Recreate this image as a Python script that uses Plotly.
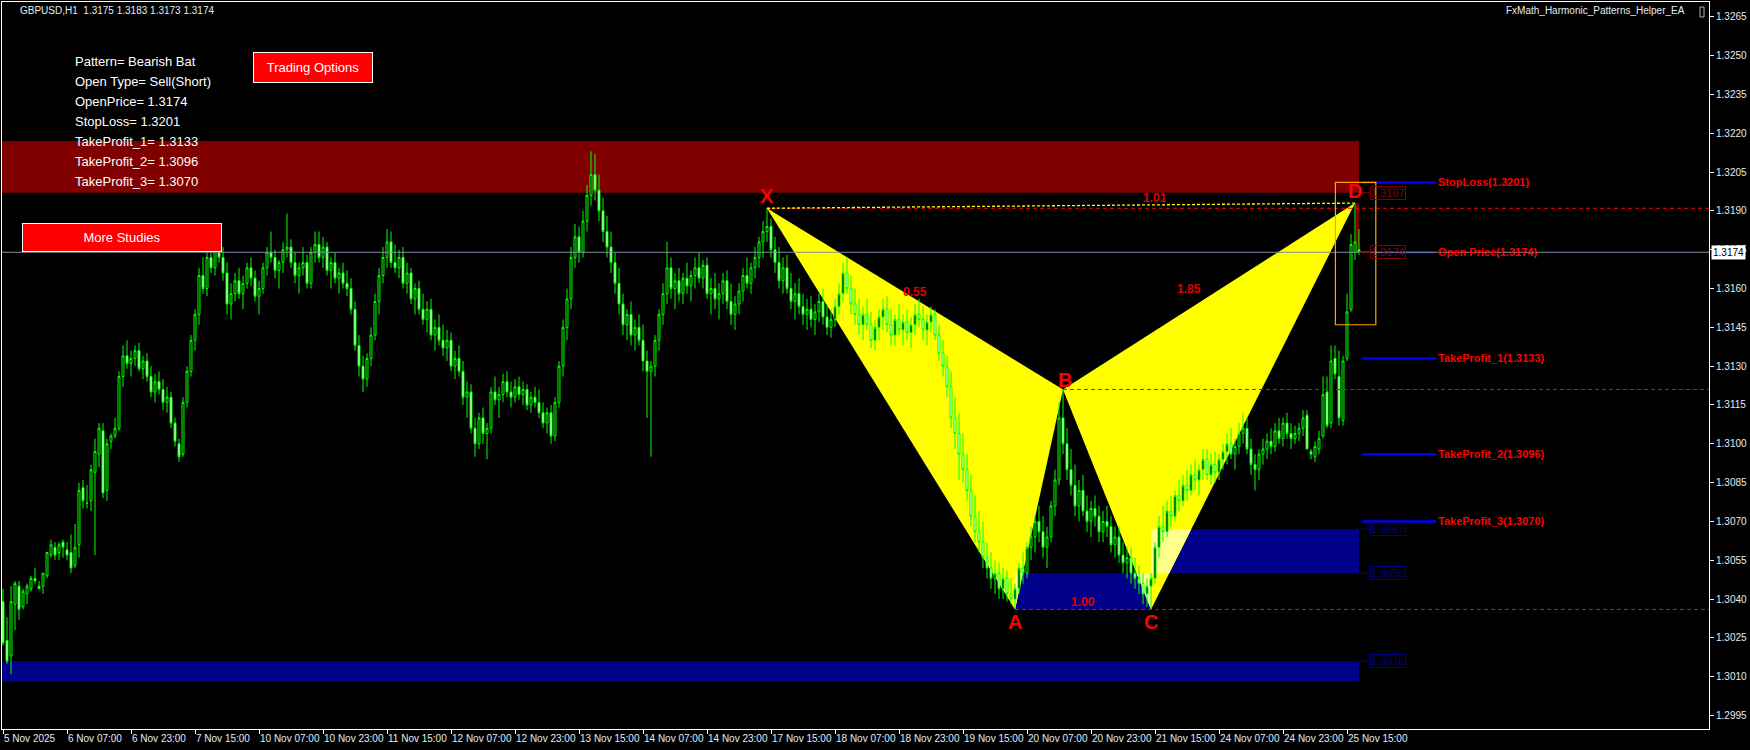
import plotly.graph_objects as go

# ---------------------------------------------------------------- data
# H1 bars, bar index 0 = 5 Nov 2025 15:00 (weekends skipped)
bar_index = list(range(340))
bar_open = [
    1.3039, 1.3024, 1.3018, 1.3038, 1.3045, 1.3037, 1.3042, 1.3044, 1.3048, 1.3045,
    1.3045, 1.3049, 1.3057, 1.3060, 1.3058, 1.3062, 1.3059, 1.3058, 1.3053, 1.3061,
    1.3083, 1.3077, 1.3078, 1.3089,
    1.3096, 1.3105, 1.3082, 1.3101, 1.3103, 1.3106, 1.3126, 1.3134, 1.3131, 1.3133,
    1.3136, 1.3129, 1.3132, 1.3126, 1.3120, 1.3124, 1.3121, 1.3116, 1.3118, 1.3108,
    1.3100, 1.3096, 1.3116, 1.3128, 1.3140, 1.3150, 1.3165, 1.3160, 1.3172, 1.3168,
    1.3181, 1.3172, 1.3166, 1.3154, 1.3158, 1.3163, 1.3158, 1.3162, 1.3168, 1.3164,
    1.3157, 1.3160, 1.3168, 1.3174, 1.3172, 1.3167, 1.3170, 1.3175, 1.3176, 1.3170,
    1.3165, 1.3168, 1.3170, 1.3162, 1.3174, 1.3177, 1.3172, 1.3176, 1.3167, 1.3170,
    1.3164, 1.3166, 1.3162, 1.3160, 1.3152, 1.3138, 1.3130, 1.3125, 1.3133, 1.3142,
    1.3155, 1.3165, 1.3172, 1.3178, 1.3170, 1.3168, 1.3172, 1.3162, 1.3166, 1.3156,
    1.3160, 1.3152, 1.3148, 1.3152, 1.3142, 1.3145, 1.3140, 1.3137, 1.3140, 1.3130,
    1.3133, 1.3128, 1.3118, 1.3120, 1.3106, 1.3100, 1.3110, 1.3104, 1.3106, 1.3120,
    1.3117, 1.3119, 1.3124, 1.3120, 1.3118, 1.3122, 1.3119, 1.3121, 1.3115, 1.3118,
    1.3116, 1.3112, 1.3108, 1.3112, 1.3103, 1.3116, 1.3130, 1.3145, 1.3156, 1.3172,
    1.3180, 1.3174, 1.3186, 1.3196, 1.3204, 1.3198, 1.3190, 1.3182, 1.3176, 1.3170,
    1.3162, 1.3154, 1.3146, 1.3150, 1.3142, 1.3145, 1.3140, 1.3132, 1.3128, 1.3130,
    1.3140, 1.3150, 1.3158, 1.3168, 1.3160, 1.3163, 1.3158, 1.3164, 1.3161, 1.3165,
    1.3168, 1.3164, 1.3169, 1.3158, 1.3160, 1.3156, 1.3158, 1.3163, 1.3155, 1.3150,
    1.3154, 1.3159, 1.3165, 1.3162, 1.3168, 1.3172, 1.3178, 1.3182, 1.3184, 1.3175,
    1.3170, 1.3163, 1.3168, 1.3160, 1.3155, 1.3158, 1.3153, 1.3150, 1.3152, 1.3148,
    1.3151, 1.3155, 1.3149, 1.3145, 1.3148, 1.3153, 1.3158, 1.3166, 1.3160, 1.3154,
    1.3150, 1.3146, 1.3150, 1.3146, 1.3140, 1.3145, 1.3149, 1.3152, 1.3146, 1.3142,
    1.3148, 1.3144, 1.3147, 1.3143, 1.3146, 1.3150, 1.3148, 1.3144, 1.3147, 1.3150,
    1.3142, 1.3135, 1.3130, 1.3122, 1.3110, 1.3104, 1.3096, 1.3090, 1.3082, 1.3072,
    1.3066, 1.3062, 1.3056, 1.3052, 1.3048, 1.3050, 1.3044, 1.3048, 1.3042, 1.3040,
    1.3044, 1.3052, 1.3050, 1.3060, 1.3064, 1.3070, 1.3066, 1.3060, 1.3064, 1.3076,
    1.3086, 1.3110, 1.3100, 1.3090, 1.3084, 1.3076, 1.3082, 1.3074, 1.3070, 1.3075,
    1.3072, 1.3066, 1.3070, 1.3068, 1.3061, 1.3064, 1.3057, 1.3054, 1.3056, 1.3050,
    1.3048, 1.3046, 1.3042, 1.3045, 1.3048, 1.3060, 1.3068, 1.3066, 1.3074, 1.3072,
    1.3080, 1.3078, 1.3084, 1.3082, 1.3088, 1.3086, 1.3090, 1.3094, 1.3088, 1.3092,
    1.3089, 1.3094, 1.3097, 1.3100, 1.3096, 1.3099, 1.3104, 1.3106, 1.3098, 1.3092,
    1.3090, 1.3096, 1.3098, 1.3101, 1.3099, 1.3105, 1.3102, 1.3108, 1.3104, 1.3102,
    1.3104, 1.3106, 1.3111, 1.3097, 1.3095, 1.3098, 1.3103, 1.3120, 1.3108, 1.3133,
    1.3126, 1.3109, 1.3133, 1.3152, 1.3174, 1.3175]
bar_high = [
    1.3044, 1.3033, 1.3045, 1.3047, 1.3047, 1.3044, 1.3046, 1.3049, 1.3052, 1.3047,
    1.3050, 1.3058, 1.3063, 1.3062, 1.3062, 1.3063, 1.3062, 1.3065, 1.3069, 1.3085,
    1.3086, 1.3084, 1.3092, 1.3102,
    1.3108, 1.3108, 1.3102, 1.3104, 1.3110, 1.3128, 1.3138, 1.3140, 1.3136, 1.3138,
    1.3139, 1.3134, 1.3135, 1.3130, 1.3127, 1.3128, 1.3125, 1.3122, 1.3120, 1.3110,
    1.3102, 1.3118, 1.3130, 1.3142, 1.3152, 1.3168, 1.3172, 1.3175, 1.3178, 1.3184,
    1.3184, 1.3176, 1.3170, 1.3162, 1.3166, 1.3168, 1.3165, 1.3170, 1.3172, 1.3167,
    1.3163, 1.3170, 1.3176, 1.3182, 1.3175, 1.3171, 1.3178, 1.3189, 1.3179, 1.3174,
    1.3170, 1.3176, 1.3173, 1.3176, 1.3182, 1.3182, 1.3180, 1.3178, 1.3172, 1.3174,
    1.3168, 1.3170, 1.3167, 1.3164, 1.3155, 1.3142, 1.3134, 1.3135, 1.3145, 1.3158,
    1.3168, 1.3176, 1.3183, 1.3182, 1.3177, 1.3175, 1.3176, 1.3170, 1.3168, 1.3162,
    1.3163, 1.3158, 1.3155, 1.3156, 1.3148, 1.3150, 1.3146, 1.3144, 1.3143, 1.3136,
    1.3138, 1.3132, 1.3124, 1.3123, 1.3110, 1.3112, 1.3114, 1.3108, 1.3122, 1.3126,
    1.3122, 1.3127, 1.3128, 1.3124, 1.3125, 1.3126, 1.3124, 1.3123, 1.3120, 1.3122,
    1.3121, 1.3116, 1.3114, 1.3115, 1.3118, 1.3132, 1.3148, 1.3160, 1.3176, 1.3185,
    1.3184, 1.3190, 1.3200, 1.3213, 1.3212, 1.3204, 1.3195, 1.3188, 1.3182, 1.3174,
    1.3168, 1.3158, 1.3152, 1.3155, 1.3148, 1.3150, 1.3146, 1.3136, 1.3132, 1.3142,
    1.3152, 1.3162, 1.3178, 1.3172, 1.3166, 1.3168, 1.3166, 1.3170, 1.3167, 1.3172,
    1.3174, 1.3171, 1.3172, 1.3164, 1.3166, 1.3162, 1.3166, 1.3167, 1.3162, 1.3157,
    1.3162, 1.3168, 1.3172, 1.3170, 1.3176, 1.3180, 1.3186, 1.3191, 1.3187, 1.3180,
    1.3176, 1.3172, 1.3173, 1.3166, 1.3162, 1.3164, 1.3158, 1.3156, 1.3157, 1.3154,
    1.3158, 1.3160, 1.3154, 1.3152, 1.3156, 1.3162, 1.3170, 1.3172, 1.3165, 1.3160,
    1.3156, 1.3153, 1.3156, 1.3151, 1.3148, 1.3152, 1.3156, 1.3157, 1.3152, 1.3150,
    1.3154, 1.3150, 1.3152, 1.3149, 1.3154, 1.3156, 1.3153, 1.3150, 1.3153, 1.3152,
    1.3146, 1.3140, 1.3134, 1.3128, 1.3118, 1.3112, 1.3104, 1.3096, 1.3088, 1.3080,
    1.3074, 1.3070, 1.3062, 1.3058, 1.3055, 1.3054, 1.3052, 1.3051, 1.3048, 1.3046,
    1.3054, 1.3058, 1.3062, 1.3068, 1.3072, 1.3076, 1.3072, 1.3068, 1.3078, 1.3090,
    1.3116, 1.3121, 1.3106, 1.3098, 1.3092, 1.3086, 1.3088, 1.3080, 1.3078, 1.3080,
    1.3076, 1.3074, 1.3076, 1.3072, 1.3068, 1.3068, 1.3062, 1.3060, 1.3060, 1.3056,
    1.3053, 1.3050, 1.3048, 1.3050, 1.3062, 1.3072, 1.3076, 1.3078, 1.3080, 1.3082,
    1.3086, 1.3088, 1.3090, 1.3092, 1.3094, 1.3092, 1.3098, 1.3098, 1.3096, 1.3097,
    1.3096, 1.3100, 1.3104, 1.3106, 1.3102, 1.3108, 1.3112, 1.3110, 1.3102, 1.3096,
    1.3098, 1.3102, 1.3104, 1.3106, 1.3108, 1.3110, 1.3110, 1.3112, 1.3108, 1.3107,
    1.3108, 1.3113, 1.3113, 1.3098, 1.3101, 1.3105, 1.3126, 1.3126, 1.3138, 1.3138,
    1.3136, 1.3134, 1.3158, 1.3181, 1.3193, 1.3183]
bar_low = [
    1.3022, 1.3015, 1.3011, 1.3028, 1.3032, 1.3036, 1.3038, 1.3043, 1.3046, 1.3044,
    1.3042, 1.3048, 1.3056, 1.3055, 1.3055, 1.3056, 1.3055, 1.3050, 1.3052, 1.3056,
    1.3075, 1.3075, 1.3074, 1.3057,
    1.3091, 1.3079, 1.3078, 1.3098, 1.3102, 1.3105, 1.3122, 1.3129, 1.3126, 1.3130,
    1.3128, 1.3125, 1.3124, 1.3118, 1.3116, 1.3119, 1.3113, 1.3112, 1.3106, 1.3099,
    1.3093, 1.3095, 1.3114, 1.3126, 1.3136, 1.3146, 1.3158, 1.3157, 1.3166, 1.3165,
    1.3170, 1.3163, 1.3150, 1.3148, 1.3155, 1.3156, 1.3152, 1.3160, 1.3161, 1.3155,
    1.3150, 1.3158, 1.3165, 1.3170, 1.3164, 1.3160, 1.3166, 1.3172, 1.3168, 1.3162,
    1.3158, 1.3165, 1.3160, 1.3160, 1.3170, 1.3170, 1.3168, 1.3165, 1.3160, 1.3162,
    1.3158, 1.3160, 1.3157, 1.3150, 1.3136, 1.3126, 1.3120, 1.3122, 1.3130, 1.3140,
    1.3150, 1.3162, 1.3168, 1.3168, 1.3166, 1.3164, 1.3160, 1.3158, 1.3154, 1.3150,
    1.3150, 1.3146, 1.3143, 1.3140, 1.3136, 1.3138, 1.3134, 1.3132, 1.3128, 1.3125,
    1.3126, 1.3115, 1.3110, 1.3104, 1.3095, 1.3098, 1.3100, 1.3094, 1.3104, 1.3115,
    1.3110, 1.3116, 1.3118, 1.3114, 1.3116, 1.3117, 1.3115, 1.3113, 1.3112, 1.3114,
    1.3110, 1.3106, 1.3104, 1.3100, 1.3101, 1.3114, 1.3126, 1.3140, 1.3152, 1.3168,
    1.3170, 1.3172, 1.3182, 1.3192, 1.3194, 1.3186, 1.3178, 1.3172, 1.3166, 1.3158,
    1.3150, 1.3142, 1.3140, 1.3138, 1.3136, 1.3138, 1.3128, 1.3110, 1.3095, 1.3126,
    1.3136, 1.3146, 1.3154, 1.3156, 1.3152, 1.3155, 1.3154, 1.3158, 1.3155, 1.3160,
    1.3162, 1.3160, 1.3156, 1.3150, 1.3152, 1.3148, 1.3154, 1.3152, 1.3146, 1.3144,
    1.3150, 1.3155, 1.3160, 1.3158, 1.3164, 1.3168, 1.3172, 1.3178, 1.3172, 1.3166,
    1.3160, 1.3158, 1.3158, 1.3152, 1.3148, 1.3150, 1.3146, 1.3144, 1.3145, 1.3142,
    1.3147, 1.3146, 1.3142, 1.3141, 1.3145, 1.3150, 1.3155, 1.3158, 1.3150, 1.3146,
    1.3142, 1.3140, 1.3144, 1.3137, 1.3136, 1.3140, 1.3144, 1.3143, 1.3138, 1.3138,
    1.3142, 1.3138, 1.3140, 1.3137, 1.3142, 1.3145, 1.3140, 1.3138, 1.3143, 1.3140,
    1.3132, 1.3126, 1.3118, 1.3106, 1.3098, 1.3086, 1.3085, 1.3078, 1.3068, 1.3062,
    1.3058, 1.3052, 1.3048, 1.3044, 1.3042, 1.3040, 1.3040, 1.3039, 1.3038, 1.3036,
    1.3042, 1.3046, 1.3048, 1.3055, 1.3058, 1.3062, 1.3056, 1.3052, 1.3062, 1.3072,
    1.3084, 1.3096, 1.3086, 1.3080, 1.3072, 1.3070, 1.3072, 1.3066, 1.3064, 1.3068,
    1.3062, 1.3062, 1.3064, 1.3058, 1.3056, 1.3054, 1.3050, 1.3048, 1.3046, 1.3044,
    1.3042, 1.3038, 1.3037, 1.3036, 1.3046, 1.3056, 1.3062, 1.3064, 1.3068, 1.3070,
    1.3074, 1.3076, 1.3078, 1.3080, 1.3082, 1.3080, 1.3086, 1.3086, 1.3084, 1.3085,
    1.3086, 1.3090, 1.3092, 1.3094, 1.3090, 1.3096, 1.3100, 1.3096, 1.3088, 1.3082,
    1.3086, 1.3092, 1.3094, 1.3096, 1.3097, 1.3100, 1.3099, 1.3102, 1.3098, 1.3100,
    1.3101, 1.3103, 1.3098, 1.3094, 1.3093, 1.3096, 1.3102, 1.3106, 1.3106, 1.3125,
    1.3107, 1.3107, 1.3132, 1.3151, 1.3171, 1.3173]
bar_close = [
    1.3023, 1.3016, 1.3039, 1.3046, 1.3036, 1.3043, 1.3045, 1.3048, 1.3047, 1.3044,
    1.3050, 1.3058, 1.3061, 1.3057, 1.3061, 1.3060, 1.3057, 1.3052, 1.3060, 1.3082,
    1.3078, 1.3077, 1.3090, 1.3097,
    1.3106, 1.3081, 1.3100, 1.3103, 1.3106, 1.3126, 1.3134, 1.3131, 1.3133, 1.3136,
    1.3129, 1.3132, 1.3126, 1.3120, 1.3124, 1.3121, 1.3116, 1.3118, 1.3108, 1.3101,
    1.3095, 1.3116, 1.3128, 1.3140, 1.3150, 1.3165, 1.3160, 1.3172, 1.3168, 1.3181,
    1.3172, 1.3166, 1.3154, 1.3158, 1.3163, 1.3158, 1.3162, 1.3168, 1.3164, 1.3157,
    1.3160, 1.3168, 1.3174, 1.3172, 1.3167, 1.3170, 1.3175, 1.3176, 1.3170, 1.3165,
    1.3168, 1.3170, 1.3162, 1.3174, 1.3177, 1.3172, 1.3176, 1.3167, 1.3170, 1.3164,
    1.3166, 1.3162, 1.3160, 1.3152, 1.3138, 1.3130, 1.3125, 1.3133, 1.3142, 1.3155,
    1.3165, 1.3172, 1.3178, 1.3170, 1.3168, 1.3172, 1.3162, 1.3166, 1.3156, 1.3160,
    1.3152, 1.3148, 1.3152, 1.3142, 1.3145, 1.3140, 1.3137, 1.3140, 1.3130, 1.3133,
    1.3128, 1.3118, 1.3120, 1.3106, 1.3100, 1.3110, 1.3104, 1.3106, 1.3120, 1.3117,
    1.3119, 1.3124, 1.3120, 1.3118, 1.3122, 1.3119, 1.3121, 1.3115, 1.3118, 1.3116,
    1.3112, 1.3108, 1.3112, 1.3103, 1.3116, 1.3130, 1.3145, 1.3156, 1.3172, 1.3180,
    1.3174, 1.3186, 1.3196, 1.3204, 1.3198, 1.3190, 1.3182, 1.3176, 1.3170, 1.3162,
    1.3154, 1.3146, 1.3150, 1.3142, 1.3145, 1.3140, 1.3132, 1.3128, 1.3130, 1.3140,
    1.3150, 1.3158, 1.3168, 1.3160, 1.3163, 1.3158, 1.3164, 1.3161, 1.3165, 1.3168,
    1.3164, 1.3169, 1.3158, 1.3160, 1.3156, 1.3158, 1.3163, 1.3155, 1.3150, 1.3154,
    1.3159, 1.3165, 1.3162, 1.3168, 1.3172, 1.3178, 1.3182, 1.3184, 1.3175, 1.3170,
    1.3163, 1.3168, 1.3160, 1.3155, 1.3158, 1.3153, 1.3150, 1.3152, 1.3148, 1.3151,
    1.3155, 1.3149, 1.3145, 1.3148, 1.3153, 1.3158, 1.3166, 1.3160, 1.3154, 1.3150,
    1.3146, 1.3150, 1.3146, 1.3140, 1.3145, 1.3149, 1.3152, 1.3146, 1.3142, 1.3148,
    1.3144, 1.3147, 1.3143, 1.3146, 1.3150, 1.3148, 1.3144, 1.3147, 1.3150, 1.3142,
    1.3135, 1.3130, 1.3122, 1.3110, 1.3104, 1.3096, 1.3090, 1.3082, 1.3072, 1.3066,
    1.3062, 1.3056, 1.3052, 1.3048, 1.3050, 1.3044, 1.3048, 1.3042, 1.3040, 1.3044,
    1.3052, 1.3050, 1.3060, 1.3064, 1.3070, 1.3066, 1.3060, 1.3064, 1.3076, 1.3086,
    1.3110, 1.3100, 1.3090, 1.3084, 1.3076, 1.3082, 1.3074, 1.3070, 1.3075, 1.3072,
    1.3066, 1.3070, 1.3068, 1.3061, 1.3064, 1.3057, 1.3054, 1.3056, 1.3050, 1.3048,
    1.3046, 1.3042, 1.3045, 1.3048, 1.3060, 1.3068, 1.3066, 1.3074, 1.3072, 1.3080,
    1.3078, 1.3084, 1.3082, 1.3088, 1.3086, 1.3090, 1.3094, 1.3088, 1.3092, 1.3089,
    1.3094, 1.3097, 1.3100, 1.3096, 1.3099, 1.3104, 1.3106, 1.3098, 1.3092, 1.3090,
    1.3096, 1.3098, 1.3101, 1.3099, 1.3105, 1.3102, 1.3108, 1.3104, 1.3102, 1.3104,
    1.3106, 1.3110, 1.3098, 1.3096, 1.3099, 1.3102, 1.3119, 1.3107, 1.3132, 1.3127,
    1.3110, 1.3132, 1.3151, 1.3177, 1.3178, 1.3174]

tick_bars = [0, 16, 32, 48, 64, 80, 96, 112, 128, 144, 160, 176, 192, 208, 224, 240,
             256, 272, 288, 304, 320, 336]
tick_labels = ["5 Nov 2025", "6 Nov 07:00", "6 Nov 23:00", "7 Nov 15:00", "10 Nov 07:00",
               "10 Nov 23:00", "11 Nov 15:00", "12 Nov 07:00", "12 Nov 23:00", "13 Nov 15:00",
               "14 Nov 07:00", "14 Nov 23:00", "17 Nov 15:00", "18 Nov 07:00", "18 Nov 23:00",
               "19 Nov 15:00", "20 Nov 07:00", "20 Nov 23:00", "21 Nov 15:00", "24 Nov 07:00",
               "24 Nov 23:00", "25 Nov 15:00"]
price_ticks = [1.2995, 1.3010, 1.3025, 1.3040, 1.3055, 1.3070, 1.3085, 1.3100, 1.3115, 1.3130,
               1.3145, 1.3160, 1.3175, 1.3190, 1.3205, 1.3220, 1.3235, 1.3250, 1.3265]

symbol_text = "GBPUSD,H1"
last_ohlc = [1.3175, 1.3183, 1.3173, 1.3174]
ea_name = "FxMath_Harmonic_Patterns_Helper_EA"

pattern_labels = ["X", "A", "B", "C", "D"]
pattern_bars = [191, 253, 265, 287, 338]
pattern_prices = [1.3191, 1.3036, 1.3121, 1.3036, 1.3193]

ratio_labels = ["0.55", "1.85", "1.00", "1.01"]
ratio_bars = [228, 296.4, 270, 288]
ratio_prices = [1.31585, 1.31598, 1.3039, 1.31951]

zone_start = [-1, 287, 253, -1, 338.25]
zone_end = [339, 339, 287, 339, 339]
zone_low = [1.3197, 1.3050, 1.3036, 1.3008, 1.3174]
zone_high = [1.3217, 1.3067, 1.3050, 1.3016, 1.3193]
zone_colors = ["#800000", "#00008B", "#00008B", "#00008B", "#800000"]

price_label_values = [1.3197, 1.3174, 1.3067, 1.3050, 1.3016]
price_label_colors = ["#800000", "#800000", "#00008B", "#00008B", "#00008B"]

level_names = ["StopLoss", "Open Price", "TakeProfit_1", "TakeProfit_2", "TakeProfit_3"]
level_prices = [1.3201, 1.3174, 1.3133, 1.3096, 1.3070]

signal_box_bars = [333.1, 343.2]
signal_box_prices = [1.3146, 1.3201]

info_lines = ["Pattern= Bearish Bat", "Open Type= Sell(Short)", "OpenPrice= 1.3174",
              "StopLoss= 1.3201", "TakeProfit_1= 1.3133", "TakeProfit_2= 1.3096",
              "TakeProfit_3= 1.3070"]
button_texts = ["Trading Options", "More Studies"]

# ---------------------------------------------------------------- layout helpers
FONT = "Liberation Sans, Arial, sans-serif"
L, T, R, B = 2, 2, 41, 21
W, H = 1750 - L - R, 750 - T - B
x_range = [-0.25, 426.5]
y_range = [1.29898, 1.32707]
AX = "#e4ebf3"


def px(x):
    return (x - L) / W


def py(y):
    return 1 - (y - T) / H


def xor_color(c1, c2):
    a = int(c1[1:], 16) ^ int(c2[1:], 16)
    return "#%06X" % a


def clip(poly, x0, x1, y0, y1):
    def edge(pts, inside, inter):
        out = []
        for i in range(len(pts)):
            cur, prev = pts[i], pts[i - 1]
            if inside(cur):
                if not inside(prev):
                    out.append(inter(prev, cur))
                out.append(cur)
            elif inside(prev):
                out.append(inter(prev, cur))
        return out

    def ix(xv):
        return lambda p, q: (xv, p[1] + (q[1] - p[1]) * (xv - p[0]) / (q[0] - p[0]))

    def iy(yv):
        return lambda p, q: (p[0] + (q[0] - p[0]) * (yv - p[1]) / (q[1] - p[1]), yv)

    pts = list(poly)
    for inside, inter in [(lambda p: p[0] >= x0, ix(x0)), (lambda p: p[0] <= x1, ix(x1)),
                          (lambda p: p[1] >= y0, iy(y0)), (lambda p: p[1] <= y1, iy(y1))]:
        if not pts:
            break
        pts = edge(pts, inside, inter)
    return pts


def path_of(points):
    return "M " + " L ".join("%r,%r" % (p[0], p[1]) for p in points) + " Z"


fig = go.Figure()

# zones (rectangles in the background)
for x0, x1, y0, y1, c in zip(zone_start, zone_end, zone_low, zone_high, zone_colors):
    fig.add_shape(type="rect", xref="x", yref="y", x0=x0, x1=x1, y0=y0, y1=y1,
                  fillcolor=c, line_width=0, layer="below")

# harmonic triangles (background, XOR-blended over the zones like the terminal does)
YELLOW = "#FFFF00"
triangles = [(0, 1, 2), (2, 3, 4)]
for tri in triangles:
    pts = [(pattern_bars[i], pattern_prices[i]) for i in tri]
    fig.add_shape(type="path", xref="x", yref="y", path=path_of(pts),
                  fillcolor=YELLOW, line_width=0, layer="below")
    for x0, x1, y0, y1, c in zip(zone_start, zone_end, zone_low, zone_high, zone_colors):
        poly = clip(pts, x0, x1, y0, y1)
        if len(poly) >= 3:
            fig.add_shape(type="path", xref="x", yref="y", path=path_of(poly),
                          fillcolor=xor_color(YELLOW, c), line_width=0, layer="below")

# candles
fig.add_trace(go.Candlestick(
    x=bar_index, open=bar_open, high=bar_high, low=bar_low, close=bar_close,
    increasing=dict(line=dict(color="#00FF00", width=1), fillcolor="#000000"),
    decreasing=dict(line=dict(color="#00FF00", width=1), fillcolor="#FFFFFF"),
    whiskerwidth=0, hoverinfo="skip", showlegend=False))

# dashed red level lines from X, B, A to the right edge
for i in (0, 2, 1):
    fig.add_trace(go.Scatter(x=[pattern_bars[i], x_range[1]],
                             y=[pattern_prices[i], pattern_prices[i]], mode="lines",
                             line=dict(color="#FF0000", width=1, dash="4px,3px"),
                             hoverinfo="skip", showlegend=False))
# X-D dashed yellow line
fig.add_trace(go.Scatter(x=[pattern_bars[0], pattern_bars[4]],
                         y=[pattern_prices[0], pattern_prices[4]], mode="lines",
                         line=dict(color="#FFFF00", width=1.3, dash="3px,2px"),
                         hoverinfo="skip", showlegend=False))

# current price line
fig.add_shape(type="line", xref="paper", yref="y", x0=0, x1=1, y0=bar_close[-1],
              y1=bar_close[-1], line=dict(color="#7d8ca3", width=1), layer="above")

# SL / TP level segments
LV_X0, LV_X1 = 339.75, 358.25
for name, p in zip(level_names, level_prices):
    fig.add_trace(go.Scatter(x=[LV_X0, LV_X1], y=[p, p], mode="lines",
                             line=dict(color="#0000FF", width=2.5),
                             hoverinfo="skip", showlegend=False))

# signal box
fig.add_shape(type="rect", xref="x", yref="y", x0=signal_box_bars[0], x1=signal_box_bars[1],
              y0=signal_box_prices[0], y1=signal_box_prices[1],
              line=dict(color="#FFA500", width=1.2), fillcolor="rgba(0,0,0,0)", layer="above")

annotations = []
# level texts
for name, p in zip(level_names, level_prices):
    annotations.append(dict(x=LV_X1, y=p, xref="x", yref="y", xanchor="left", yanchor="middle",
                            text="%s(%.4f)" % (name, p), showarrow=False,
                            font=dict(family=FONT, size=11, color="#FF0000", weight="bold")))
# zone price labels
LB_X = 341.75
for v, c in zip(price_label_values, price_label_colors):
    fig.add_shape(type="line", xref="x", yref="y", x0=339, x1=LB_X, y0=v, y1=v,
                  line=dict(color=c, width=1), layer="above")
    annotations.append(dict(x=LB_X, y=v, xref="x", yref="y", xanchor="left", yanchor="middle",
                            text="%.4f" % v, showarrow=False, bgcolor="rgba(0,0,0,0)",
                            bordercolor=c, borderwidth=1, borderpad=0,
                            font=dict(family=FONT, size=11, color=c)))
# pattern letters
letter_shift = {"X": 12, "A": -13, "B": 9, "C": -13, "D": 12}
for name, b, p in zip(pattern_labels, pattern_bars, pattern_prices):
    annotations.append(dict(x=b, y=p, xref="x", yref="y", text=name, showarrow=False,
                            xanchor="center", yanchor="middle",
                            yshift=letter_shift[name], xshift=2 if name == "B" else 0,
                            font=dict(family=FONT, size=20, color="#FF0000", weight="bold")))
# ratios
for t, b, p in zip(ratio_labels, ratio_bars, ratio_prices):
    annotations.append(dict(x=b, y=p, xref="x", yref="y", text=t, showarrow=False,
                            xanchor="center", yanchor="middle",
                            font=dict(family=FONT, size=12, color="#E00000", weight="bold")))

# info text block
for k, line in enumerate(info_lines):
    annotations.append(dict(x=px(73), y=py(61.7 + 20 * k), xref="paper", yref="paper",
                            xanchor="left", yanchor="middle", text=line, showarrow=False,
                            font=dict(family=FONT, size=13, color="#FFFFFF")))
# buttons
buttons = [(button_texts[0], 313, 67.5, 116, 27), (button_texts[1], 122, 237.5, 196, 25)]
for t, cx, cy, bw, bh in buttons:
    annotations.append(dict(x=px(cx), y=py(cy), xref="paper", yref="paper", text=t,
                            xanchor="center", yanchor="middle",
                            showarrow=False, width=bw, height=bh, bgcolor="#FF0000",
                            bordercolor="#FFFFFF", borderwidth=1, borderpad=1, align="center",
                            valign="middle", font=dict(family=FONT, size=13, color="#FFFFFF")))
# header
annotations.append(dict(x=px(18), y=py(11), xref="paper", yref="paper", xanchor="left",
                        yanchor="middle", showarrow=False,
                        text="%s  %s" % (symbol_text, " ".join("%.4f" % v for v in last_ohlc)),
                        font=dict(family=FONT, size=10, color=AX)))
annotations.append(dict(x=px(1687), y=py(11), xref="paper", yref="paper", xanchor="right",
                        yanchor="middle", showarrow=False, text=ea_name,
                        font=dict(family=FONT, size=10, color=AX)))
fig.add_shape(type="rect", xref="paper", yref="paper", x0=px(1700), x1=px(1704),
              y0=py(17), y1=py(7), line=dict(color="#a9b8c8", width=1), layer="above")
# current price box on the axis
annotations.append(dict(x=1, y=bar_close[-1], xref="paper", yref="y", xanchor="left",
                        yanchor="middle", xshift=2, text="%.4f" % bar_close[-1],
                        showarrow=False, bgcolor="#FFFFFF", borderpad=1,
                        font=dict(family=FONT, size=10, color="#000000")))

fig.update_layout(
    width=1750, height=750, margin=dict(l=L, r=R, t=T, b=B, autoexpand=False),
    paper_bgcolor="#000000", plot_bgcolor="#000000", hovermode=False,
    showlegend=False, annotations=annotations,
    xaxis=dict(range=x_range, tickmode="array", tickvals=tick_bars, ticktext=tick_labels,
               tickangle=0, automargin=False,
               showgrid=False, zeroline=False, showline=True, linecolor="#FFFFFF",
               linewidth=1, mirror=True, ticks="outside", ticklen=4, tickcolor="#FFFFFF",
               ticklabelposition="outside right", rangeslider=dict(visible=False),
               tickfont=dict(family=FONT, size=10, color=AX), fixedrange=True),
    yaxis=dict(range=y_range, side="right", tickmode="array", tickvals=price_ticks,
               tickformat=".4f", showgrid=False, zeroline=False, showline=True,
               automargin=False,
               linecolor="#FFFFFF", linewidth=1, mirror=True, ticks="outside", ticklen=4,
               tickcolor="#FFFFFF", tickfont=dict(family=FONT, size=10, color=AX),
               fixedrange=True),
)

fig.write_html("out.html", config={"displayModeBar": False},
               post_script="document.body.style.margin='0';document.body.style.overflow='hidden';")
